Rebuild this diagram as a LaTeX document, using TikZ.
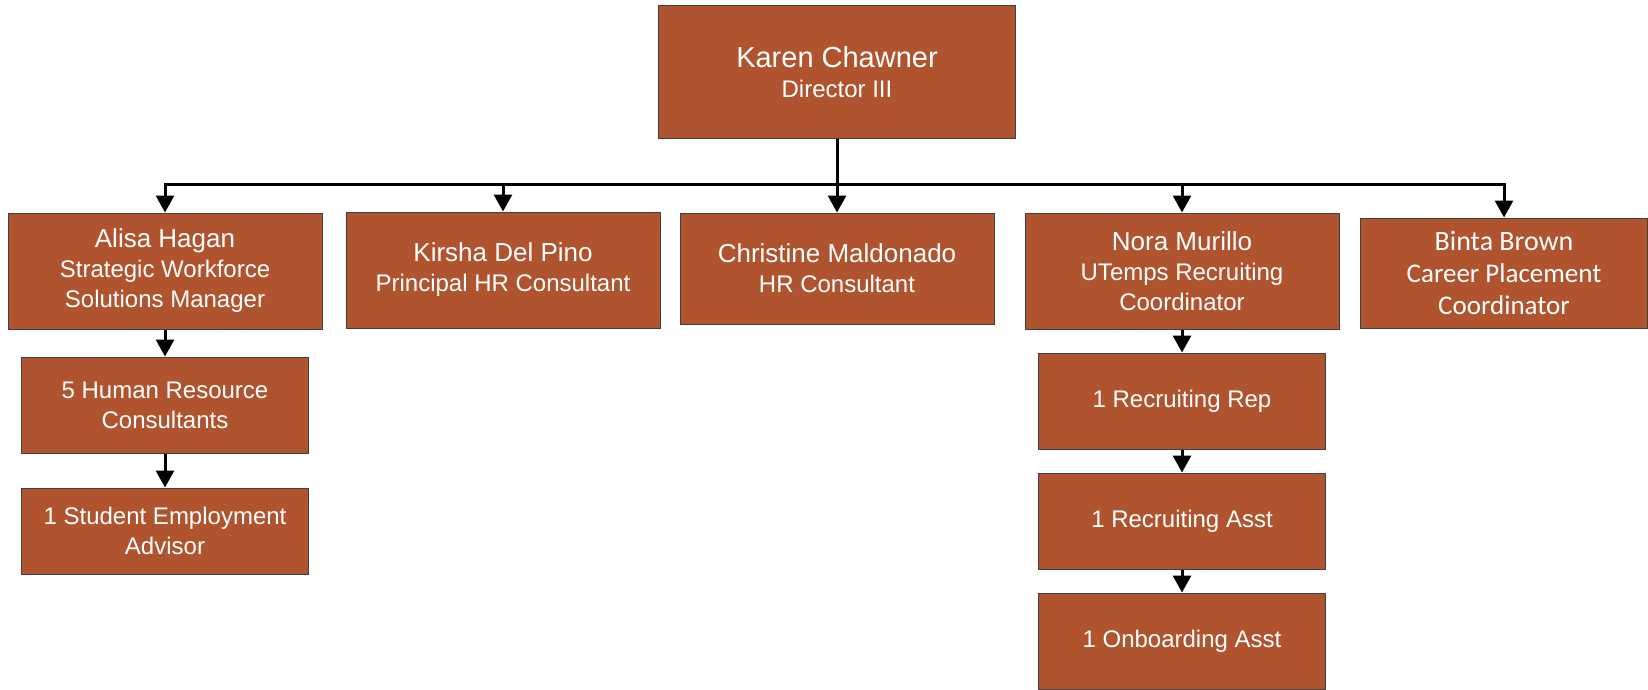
\documentclass[tikz,border=0pt]{standalone}
\usepackage{fontspec}
\setmainfont{Liberation Sans}
\newfontfamily\cbr{Carlito}
\usepackage{tikz}
\usetikzlibrary{arrows.meta,positioning}
\definecolor{rust}{RGB}{176,84,48}
\newcommand{\who}[1]{{\fontsize{26}{30}\selectfont #1}}

\begin{document}
\begin{tikzpicture}[
  x=1pt, y=-1pt,
  font=\fontsize{24}{30}\selectfont,
  box/.style={draw=black!75, fill=rust, text=white, line width=1pt,
              inner sep=0pt, align=center},
  topb/.style={box, minimum width=357pt, minimum height=132pt},
  mgr/.style={box, minimum width=314pt, minimum height=116pt},
  stf/.style={box, minimum width=287pt, minimum height=96pt},
  fl/.style={-{Triangle[length=17pt,width=18pt]}, draw=black, line width=3pt},
]
\useasboundingbox (0,0) rectangle (1648,690);

\node[topb] (karen) at (837,72)
  {{\fontsize{29}{30}\selectfont Karen Chawner}\\Director III};

\node[mgr] (alisa) at (165,271)
  {\who{Alisa Hagan}\\Strategic Workforce\\Solutions Manager};
\node[mgr] (kirsha) at (503,270)
  {\who{Kirsha Del Pino}\\Principal HR Consultant};
\node[mgr, minimum height=111pt] (christine) at (837,268.5)
  {\who{Christine Maldonado}\\HR Consultant};
\node[mgr] (nora) at (1182,271)
  {\who{Nora Murillo}\\UTemps Recruiting\\Coordinator};
\node[mgr, minimum width=287pt, minimum height=110pt,
      font=\cbr\fontsize{27}{32}\selectfont] (binta) at (1504,273)
  {{\fontsize{28}{32}\selectfont Binta Brown}\\Career Placement\\Coordinator};

% ---- staff under the managers ----
\node[stf] (hr5) at (165,405) {5 Human Resource\\Consultants};
\node[stf, minimum height=86pt] (student) at (165,531)
  {1 Student Employment\\Advisor};
\node[stf] (recrep) at (1182,401) {1 Recruiting Rep};
\node[stf] (recasst) at (1182,521) {1 Recruiting Asst};
\node[stf] (onboard) at (1182,641) {1 Onboarding Asst};

% ---- connectors ----
\coordinate (bus) at (837,184);
\foreach \b in {alisa, kirsha, christine, nora, binta}
  \draw[fl] (karen.south) |- (bus -| \b.north) -- (\b.north);

\foreach \a/\b in {alisa/hr5, hr5/student, nora/recrep, recrep/recasst, recasst/onboard}
  \draw[fl] (\a) -- (\b);

\end{tikzpicture}
\end{document}
